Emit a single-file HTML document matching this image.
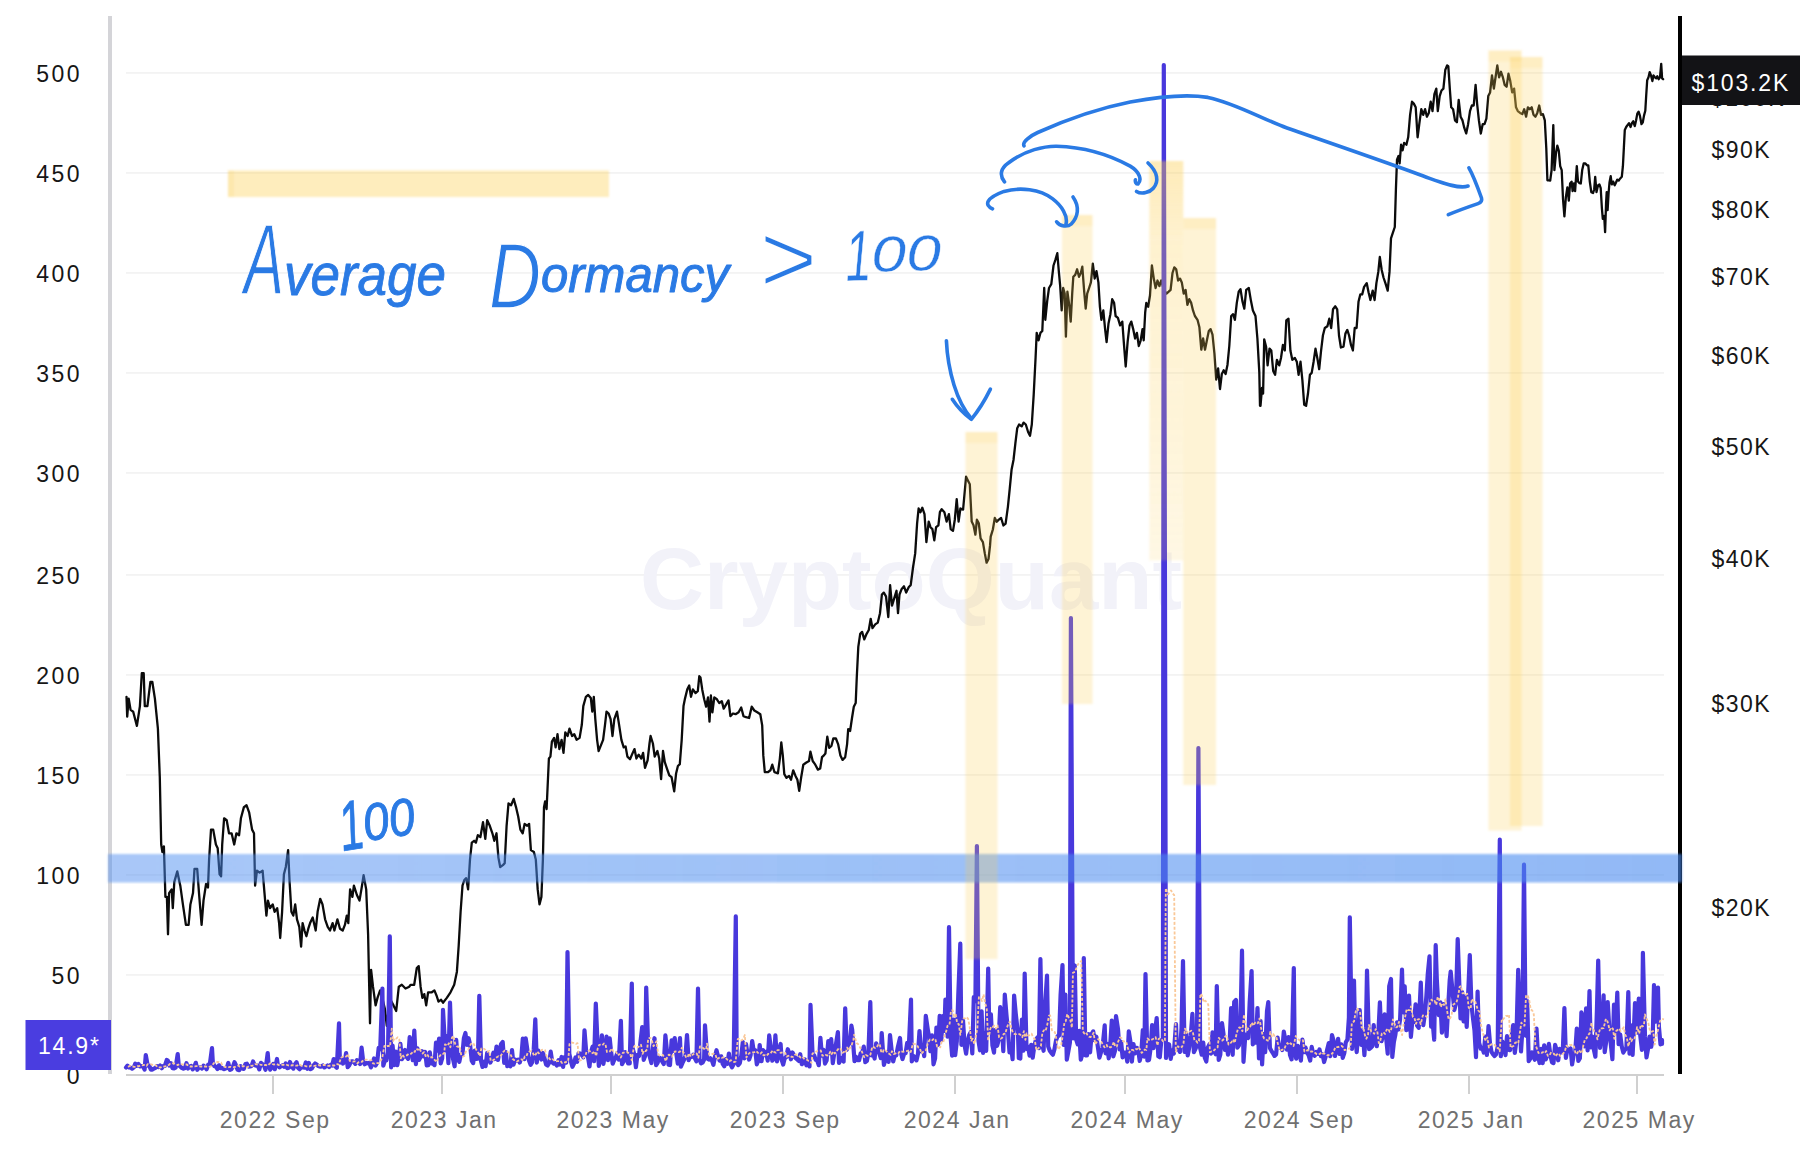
<!DOCTYPE html>
<html lang="en"><head><meta charset="utf-8"><title>Average Dormancy chart</title>
<style>html,body{margin:0;padding:0;background:#fff}body{width:1808px;height:1150px;overflow:hidden}svg{display:block}text{font-family:"Liberation Sans", "DejaVu Sans", sans-serif}.yl{font-size:23px;fill:#161616;letter-spacing:1.5px}.yll{font-size:23px;fill:#161616;letter-spacing:2.5px}.xl{font-size:23px;fill:#707070;letter-spacing:1.55px}.hw{fill:#2a7ae4;font-style:italic}</style></head><body>
<svg width="1808" height="1150" viewBox="0 0 1808 1150">
<rect width="1808" height="1150" fill="#fff"/>
<rect x="126" y="72.25" width="1538" height="1.4" fill="#f0f0f0"/>
<rect x="126" y="172.25" width="1538" height="1.4" fill="#f0f0f0"/>
<rect x="126" y="272.25" width="1538" height="1.4" fill="#f0f0f0"/>
<rect x="126" y="372.25" width="1538" height="1.4" fill="#f0f0f0"/>
<rect x="126" y="472.25" width="1538" height="1.4" fill="#f0f0f0"/>
<rect x="126" y="574.25" width="1538" height="1.4" fill="#f0f0f0"/>
<rect x="126" y="674.25" width="1538" height="1.4" fill="#f0f0f0"/>
<rect x="126" y="774.25" width="1538" height="1.4" fill="#f0f0f0"/>
<rect x="126" y="874.25" width="1538" height="1.4" fill="#f0f0f0"/>
<rect x="126" y="974.25" width="1538" height="1.4" fill="#f0f0f0"/>
<text x="640" y="609" font-size="88" font-weight="bold" fill="#f2f2f9" textLength="542" lengthAdjust="spacingAndGlyphs">CryptoQuant</text>
<rect x="108" y="16" width="4" height="1058" fill="#d4d4d8"/>
<rect x="1678" y="16" width="4" height="1058" fill="#000"/>
<rect x="126" y="1074" width="1538" height="2" fill="#d0d0d0"/>
<rect x="272" y="1075" width="2" height="19" fill="#d0d0d0"/>
<rect x="441" y="1075" width="2" height="19" fill="#d0d0d0"/>
<rect x="610" y="1075" width="2" height="19" fill="#d0d0d0"/>
<rect x="782" y="1075" width="2" height="19" fill="#d0d0d0"/>
<rect x="954" y="1075" width="2" height="19" fill="#d0d0d0"/>
<rect x="1124" y="1075" width="2" height="19" fill="#d0d0d0"/>
<rect x="1296" y="1075" width="2" height="19" fill="#d0d0d0"/>
<rect x="1468" y="1075" width="2" height="19" fill="#d0d0d0"/>
<rect x="1636" y="1075" width="2" height="19" fill="#d0d0d0"/>
<text class="yll" x="82" y="82" text-anchor="end">500</text>
<text class="yll" x="82" y="182" text-anchor="end">450</text>
<text class="yll" x="82" y="282" text-anchor="end">400</text>
<text class="yll" x="82" y="382" text-anchor="end">350</text>
<text class="yll" x="82" y="482" text-anchor="end">300</text>
<text class="yll" x="82" y="584" text-anchor="end">250</text>
<text class="yll" x="82" y="684" text-anchor="end">200</text>
<text class="yll" x="82" y="784" text-anchor="end">150</text>
<text class="yll" x="82" y="884" text-anchor="end">100</text>
<text class="yll" x="82" y="984" text-anchor="end">50</text>
<text class="yll" x="82" y="1084" text-anchor="end">0</text>
<text class="yl" x="1711.5" y="157.8">$90K</text>
<text class="yl" x="1711.5" y="217.8">$80K</text>
<text class="yl" x="1711.5" y="284.8">$70K</text>
<text class="yl" x="1711.5" y="363.8">$60K</text>
<text class="yl" x="1711.5" y="454.8">$50K</text>
<text class="yl" x="1711.5" y="566.8">$40K</text>
<text class="yl" x="1711.5" y="711.8">$30K</text>
<text class="yl" x="1711.5" y="915.8">$20K</text>
<text class="yl" x="1711" y="106.2">$100K</text>
<text class="xl" x="275.2" y="1128" text-anchor="middle">2022 Sep</text>
<text class="xl" x="444.2" y="1128" text-anchor="middle">2023 Jan</text>
<text class="xl" x="613.2" y="1128" text-anchor="middle">2023 May</text>
<text class="xl" x="785.2" y="1128" text-anchor="middle">2023 Sep</text>
<text class="xl" x="957.2" y="1128" text-anchor="middle">2024 Jan</text>
<text class="xl" x="1127.2" y="1128" text-anchor="middle">2024 May</text>
<text class="xl" x="1299.2" y="1128" text-anchor="middle">2024 Sep</text>
<text class="xl" x="1471.2" y="1128" text-anchor="middle">2025 Jan</text>
<text class="xl" x="1639.2" y="1128" text-anchor="middle">2025 May</text>
<polyline fill="none" stroke="#0b0b0b" stroke-width="2.3" stroke-linejoin="round" stroke-linecap="round" points="126.5,696.8 127.2,716.6 128.7,698.6 130.6,709.9 133.2,711.7 136.9,725.9 139.9,706.1 141.8,673.2 143.7,673.2 144.8,706.1 147.4,706.1 150.4,681.8 152.3,681.8 154.9,698.6 157.9,728.6 159.8,777.2 161.2,844.5 162.4,852.0 163.9,846.4 165.4,896.9 166.9,896.9 168.0,934.3 169.1,893.1 171.7,889.4 172.8,908.1 174.3,881.9 177.3,871.4 180.3,885.7 182.9,904.4 185.9,924.9 188.6,924.9 190.4,904.4 193.0,893.1 194.5,868.8 197.2,868.8 199.0,893.1 201.6,924.9 203.5,900.6 206.1,883.8 208.0,887.5 209.1,859.5 211.0,829.6 213.2,829.6 215.9,844.5 217.7,848.3 219.6,874.4 221.1,876.3 222.2,844.5 224.1,818.3 226.7,820.2 229.0,833.3 231.6,833.3 234.2,844.5 236.4,833.3 239.1,835.2 240.9,818.3 243.9,807.1 246.5,805.2 249.2,812.7 252.1,829.6 254.0,833.3 255.1,885.7 257.0,870.7 259.6,872.6 262.6,870.7 264.5,893.1 266.4,915.6 267.9,900.6 270.1,908.1 272.7,904.4 274.6,911.8 277.2,908.1 279.1,923.1 280.2,938.0 282.1,911.8 283.9,874.4 285.8,867.0 288.1,850.1 289.6,881.9 291.4,911.8 293.3,915.6 295.2,904.4 297.0,919.3 299.3,926.8 301.1,946.6 302.6,923.1 304.5,930.5 306.4,936.2 308.3,928.7 310.1,923.1 312.7,917.5 315.7,930.5 317.6,911.8 320.2,898.8 322.5,904.4 325.1,919.3 327.7,926.8 330.0,930.5 332.6,923.1 334.4,930.5 337.4,919.3 340.0,928.7 342.7,930.5 344.9,924.9 346.8,915.6 348.3,923.1 350.1,889.4 352.4,896.9 353.9,885.7 356.9,895.0 359.5,900.6 361.4,889.4 363.6,875.2 366.2,889.4 368.1,934.3 369.2,986.7 370.0,1023.3 371.1,969.8 373.0,986.7 375.6,1005.4 377.5,997.9 380.1,990.4 382.3,997.9 384.9,1009.1 386.8,1025.9 388.7,1009.1 390.5,999.8 393.5,1005.4 396.2,1011.0 398.8,986.7 401.8,984.8 405.5,988.5 409.3,986.7 410.5,984.8 414.2,984.8 416.8,968.0 418.7,966.1 420.6,986.7 422.4,997.9 424.3,994.1 426.2,1005.4 428.1,992.3 431.8,992.3 434.4,990.4 436.7,996.0 438.5,1001.6 441.1,999.8 443.0,1002.7 446.8,997.9 450.5,992.3 454.2,984.8 456.9,971.7 458.7,945.5 460.6,911.8 462.5,885.7 464.3,880.0 466.2,878.2 468.1,889.4 470.0,859.5 471.8,842.6 474.1,840.8 475.9,842.6 477.8,835.2 480.4,837.0 483.0,822.1 485.3,838.9 487.2,820.2 489.8,825.8 492.4,833.3 494.3,840.8 496.5,833.3 498.4,857.6 500.2,867.0 502.9,865.1 504.7,863.2 506.6,825.8 508.5,803.4 511.1,805.2 513.7,798.9 516.0,807.1 518.2,816.5 520.4,829.6 522.7,833.3 524.6,823.9 527.2,825.8 529.1,823.9 530.9,850.1 533.9,852.0 535.8,859.5 537.7,889.4 539.5,904.4 541.4,896.9 542.9,859.5 544.0,807.1 545.1,801.5 546.6,809.0 548.9,758.5 550.4,756.6 551.9,741.6 554.1,737.9 555.6,747.3 557.5,734.2 559.4,749.1 561.6,739.8 563.5,752.9 565.3,732.3 567.6,736.0 569.5,728.6 572.1,736.0 574.3,734.2 576.6,739.8 579.6,737.9 581.8,724.8 583.3,706.1 585.9,696.8 588.2,694.9 590.8,697.9 592.3,711.7 593.8,696.8 595.3,719.2 597.1,739.8 598.6,751.0 600.9,745.4 603.1,739.8 605.0,724.8 606.5,711.7 608.7,713.6 610.6,719.2 612.5,736.0 614.3,719.2 617.0,711.7 618.8,722.9 621.4,739.8 623.7,747.3 625.6,746.5 627.4,756.6 630.0,759.2 632.7,752.9 634.5,749.1 636.4,758.5 638.7,754.7 641.3,758.5 643.1,752.9 645.0,767.8 647.6,760.3 649.5,743.5 650.6,736.0 652.9,743.5 654.7,756.6 657.4,751.0 659.2,758.5 661.1,779.1 663.0,751.0 664.8,762.2 666.7,767.8 669.3,775.3 671.6,777.2 674.2,791.4 676.1,773.4 677.9,766.0 679.8,764.1 681.7,739.8 683.5,706.1 685.0,698.6 687.3,689.3 689.2,685.5 691.0,696.8 692.9,689.3 695.5,693.0 697.8,691.1 699.3,676.2 700.5,677.6 702.3,689.9 704.2,699.3 706.1,706.7 708.0,697.4 709.5,721.7 710.9,695.5 712.4,712.3 714.3,697.4 716.9,699.3 719.2,703.0 721.8,701.1 723.7,708.6 725.9,704.9 728.5,700.4 730.4,716.1 733.0,713.5 735.6,714.2 738.6,712.3 741.2,707.5 743.5,716.1 746.1,717.2 749.1,718.0 751.7,706.7 754.3,710.5 757.3,712.3 760.3,714.2 762.2,725.4 763.3,755.4 764.8,772.2 767.8,772.2 770.4,770.3 772.3,764.7 774.5,772.2 777.9,773.3 779.8,759.1 781.3,742.3 782.8,755.4 784.3,774.1 786.5,777.8 789.1,775.9 791.0,779.7 793.2,770.3 795.5,775.9 797.4,779.7 799.2,790.9 801.1,777.8 803.3,764.7 806.0,762.8 809.0,761.0 810.4,751.6 812.7,761.0 815.3,764.7 817.9,769.6 820.2,768.5 822.0,757.2 823.9,755.4 825.4,753.5 827.3,736.7 829.2,747.9 831.4,746.0 833.3,738.5 835.9,738.5 838.1,744.1 840.4,755.4 842.6,759.9 845.2,757.2 847.1,744.1 848.2,729.2 850.1,731.0 852.0,718.0 853.8,706.7 855.7,703.0 856.8,676.8 858.3,646.9 860.2,633.8 862.1,631.9 864.3,639.4 866.6,633.8 868.8,630.0 870.7,618.8 872.5,628.2 875.2,624.4 877.8,622.6 880.0,613.2 881.9,594.5 883.8,592.6 886.0,596.4 888.3,617.0 890.1,585.2 892.0,605.7 894.2,598.3 896.5,590.8 898.0,613.2 899.5,594.5 901.7,588.9 904.0,586.3 906.2,592.6 908.8,587.0 910.7,585.2 912.9,568.3 915.2,553.4 917.1,523.4 918.6,508.5 920.4,512.2 922.3,507.7 924.5,514.1 926.4,542.1 928.7,521.6 930.5,527.2 932.4,529.1 934.3,540.3 936.1,527.2 938.4,525.3 939.9,512.2 941.7,509.2 944.4,512.2 946.6,521.6 948.9,514.1 950.7,529.1 953.0,530.9 954.8,519.7 956.7,499.1 958.6,521.6 960.4,508.5 963.1,509.6 964.9,489.8 966.1,476.7 967.9,480.4 969.8,484.2 971.7,521.6 973.5,525.3 975.4,534.7 976.9,519.7 978.8,523.4 980.6,538.4 982.9,542.1 984.8,553.4 986.6,562.7 988.5,559.0 990.0,545.9 990.7,536.7 992.9,529.3 994.8,518.0 996.7,521.8 998.5,519.9 1001.1,518.0 1003.4,525.5 1005.6,523.6 1007.9,506.8 1009.8,488.1 1011.6,469.4 1013.5,460.0 1015.4,443.2 1017.2,428.3 1019.1,424.5 1021.7,426.4 1023.6,422.6 1025.8,424.5 1028.1,432.0 1030.0,435.7 1031.8,424.5 1033.7,394.6 1035.6,357.2 1036.7,332.9 1038.6,340.3 1040.4,332.9 1042.3,331.0 1044.2,288.0 1045.3,319.8 1047.2,301.1 1049.0,288.0 1051.3,284.2 1053.5,265.5 1055.4,259.9 1057.3,253.2 1058.8,271.1 1060.2,286.1 1061.7,310.4 1063.2,288.0 1064.7,293.6 1065.9,336.6 1067.4,291.7 1069.2,304.8 1070.7,321.6 1072.2,293.6 1073.3,276.8 1075.2,274.9 1077.1,269.3 1079.0,276.8 1080.8,273.0 1082.3,266.7 1084.2,291.7 1085.7,308.6 1087.2,293.6 1089.1,288.0 1090.9,282.4 1092.8,263.7 1094.7,278.6 1096.5,271.1 1098.4,282.4 1099.9,306.7 1101.4,319.8 1103.3,310.4 1105.1,329.1 1106.6,342.2 1108.5,323.5 1110.4,314.2 1112.2,299.2 1114.1,302.9 1115.6,316.0 1117.9,317.9 1120.1,325.4 1122.3,321.6 1123.8,342.2 1125.7,366.5 1127.6,342.2 1129.5,325.4 1131.3,321.6 1133.2,329.1 1135.1,338.5 1136.9,332.9 1138.8,346.0 1140.7,340.3 1142.5,329.1 1143.7,340.3 1145.2,312.3 1146.3,302.9 1148.2,306.7 1150.0,295.5 1151.9,265.5 1153.8,278.6 1155.6,288.0 1157.5,280.5 1159.4,286.1 1161.2,280.5 1163.9,289.9 1166.5,293.6 1168.7,291.7 1170.6,289.9 1172.5,273.0 1174.3,267.4 1176.2,269.3 1178.1,280.5 1180.0,278.6 1181.8,282.4 1183.7,293.6 1185.6,289.9 1187.4,304.8 1189.3,299.2 1191.2,302.9 1193.0,310.4 1194.9,316.0 1197.5,319.8 1199.4,327.3 1201.3,349.7 1203.1,338.5 1205.0,349.7 1206.9,340.3 1208.8,331.0 1210.6,329.1 1212.5,334.7 1214.4,353.4 1216.2,379.6 1218.1,368.4 1220.0,389.0 1221.8,374.0 1223.7,370.3 1225.6,374.0 1227.5,364.7 1229.3,346.0 1231.2,316.0 1233.1,314.2 1234.9,319.8 1236.8,302.9 1238.7,291.7 1240.5,289.1 1242.4,301.1 1244.3,308.6 1246.2,289.9 1248.8,288.0 1251.0,301.1 1252.9,310.4 1255.5,316.0 1257.4,338.5 1259.3,372.1 1260.0,405.8 1260.5,405.8 1262.0,387.9 1263.1,393.5 1264.2,339.3 1266.1,346.7 1267.6,365.4 1269.5,348.6 1271.3,350.5 1273.2,371.0 1275.1,374.8 1276.9,359.8 1279.2,365.4 1281.0,358.0 1282.9,344.9 1284.8,350.5 1286.3,320.5 1288.5,318.7 1290.4,350.5 1292.3,359.8 1294.9,358.0 1296.8,361.7 1298.6,374.8 1300.5,361.7 1302.4,380.4 1304.2,404.7 1306.1,405.8 1308.0,393.5 1309.9,374.8 1311.7,372.9 1313.6,361.7 1315.5,348.6 1317.3,358.0 1319.2,369.2 1321.1,350.5 1322.9,335.5 1324.8,328.0 1327.4,326.2 1329.3,318.7 1331.2,328.0 1333.0,309.3 1335.3,306.3 1337.2,309.3 1339.0,335.5 1340.9,347.5 1343.5,346.7 1345.4,333.6 1347.3,329.9 1349.1,335.5 1351.0,344.9 1352.9,350.5 1354.7,328.0 1356.6,328.0 1358.5,301.8 1360.3,294.4 1362.2,294.4 1364.1,286.9 1366.7,283.1 1368.6,292.5 1370.4,300.0 1372.7,290.6 1374.6,300.0 1376.4,283.1 1378.3,271.9 1379.8,257.0 1381.7,270.0 1383.5,277.5 1385.4,283.1 1387.7,290.6 1389.5,271.9 1391.0,238.3 1392.9,232.6 1394.8,227.0 1395.9,189.6 1397.0,159.7 1398.5,156.0 1399.6,163.4 1401.1,144.7 1402.6,150.3 1404.1,142.9 1406.4,144.7 1408.2,137.3 1410.1,114.8 1412.0,101.7 1413.8,103.6 1415.7,107.3 1417.6,137.3 1419.5,122.3 1421.3,109.2 1423.2,114.8 1425.1,109.2 1426.9,116.7 1428.8,112.9 1430.7,101.7 1432.5,111.1 1434.4,94.2 1436.3,88.6 1437.8,111.1 1439.7,96.1 1441.5,90.5 1443.4,88.6 1445.3,69.9 1447.1,65.4 1448.3,66.2 1449.8,88.6 1451.2,107.3 1453.1,109.2 1455.0,120.4 1456.9,122.3 1458.7,99.9 1460.6,116.7 1462.5,120.4 1464.3,127.9 1466.2,133.5 1468.1,124.2 1470.0,111.1 1471.8,105.5 1473.7,105.5 1475.6,84.9 1477.1,103.6 1478.9,120.4 1480.8,133.5 1482.7,124.2 1484.5,124.2 1486.4,118.6 1488.3,96.1 1490.1,92.4 1492.0,75.5 1493.9,88.6 1495.8,75.5 1497.3,65.4 1499.1,77.4 1501.0,71.8 1502.9,77.4 1504.7,84.9 1506.6,86.8 1508.5,73.7 1510.3,81.1 1512.2,92.4 1514.1,88.6 1516.0,107.3 1517.8,111.1 1520.1,112.9 1522.3,114.1 1524.2,109.2 1526.1,116.7 1527.9,107.3 1529.8,109.2 1531.7,107.3 1533.5,114.8 1535.4,116.7 1537.3,112.9 1539.2,105.5 1541.0,114.8 1542.9,114.1 1544.8,120.4 1546.3,148.5 1547.4,180.3 1549.3,180.3 1550.2,180.6 1551.6,170.1 1552.5,147.1 1553.3,125.1 1554.4,170.1 1556.0,152.9 1557.3,145.6 1558.8,150.9 1560.2,166.2 1561.7,170.1 1563.0,198.8 1564.4,216.4 1565.9,196.9 1567.4,187.3 1568.8,200.7 1570.1,183.5 1571.6,181.6 1572.6,191.1 1573.9,183.5 1575.1,191.1 1576.8,166.2 1578.0,181.6 1579.3,183.1 1580.8,183.5 1582.2,170.1 1583.7,163.4 1585.4,163.4 1587.0,165.3 1588.3,165.3 1589.8,181.6 1591.3,192.1 1593.1,193.0 1594.2,189.2 1595.2,176.8 1596.5,192.1 1598.0,185.4 1599.4,184.4 1600.7,188.2 1601.9,208.3 1602.8,218.9 1604.2,216.0 1605.1,232.2 1606.1,202.6 1606.7,192.1 1607.6,210.2 1608.6,193.0 1609.5,182.5 1610.7,176.2 1611.8,184.4 1613.2,181.6 1614.7,185.4 1616.0,182.5 1617.2,179.6 1618.7,180.6 1620.0,178.7 1621.8,176.8 1622.9,166.2 1623.9,147.1 1624.8,129.9 1626.2,127.0 1627.5,125.1 1629.0,123.2 1630.6,127.0 1631.9,123.2 1633.2,121.3 1634.8,126.1 1636.1,120.3 1637.3,113.6 1638.6,111.7 1639.9,115.6 1641.5,124.2 1642.8,122.3 1644.0,115.6 1645.3,110.8 1646.2,95.5 1647.2,80.2 1648.5,77.3 1649.7,72.1 1651.0,75.4 1652.4,81.1 1653.5,75.4 1654.9,77.3 1656.2,78.3 1657.3,76.3 1658.7,79.2 1660.0,77.3 1661.2,63.9 1662.1,78.3 1663.1,79.2"/>
<polyline fill="none" stroke="#4838dc" stroke-width="4.2" stroke-linejoin="round" stroke-linecap="round" points="126.0,1067.5 127.5,1065.7 129.1,1067.5 130.7,1067.6 132.2,1068.7 133.8,1067.4 135.3,1063.6 136.9,1065.9 138.4,1063.9 140.0,1066.4 141.5,1066.0 143.1,1066.5 144.6,1069.5 145.8,1055.0 147.7,1065.7 149.3,1065.7 150.8,1069.6 152.4,1069.6 153.9,1068.6 155.5,1067.9 157.0,1066.2 158.6,1067.1 160.1,1065.6 161.7,1068.2 163.2,1066.2 164.8,1066.0 166.8,1060.0 167.9,1060.8 169.4,1065.5 171.0,1063.3 172.5,1068.2 174.1,1068.4 175.6,1067.7 177.7,1054.0 178.7,1065.3 180.3,1066.4 181.8,1067.9 183.4,1068.7 184.9,1068.0 186.5,1063.2 188.0,1068.5 189.6,1066.4 191.1,1065.9 192.7,1069.4 194.2,1066.9 195.8,1062.8 197.3,1069.8 198.9,1067.6 200.4,1067.2 202.0,1068.5 203.5,1065.7 205.1,1067.1 206.6,1069.3 208.2,1064.7 209.7,1065.2 212.0,1048.0 212.8,1062.2 214.4,1066.1 215.9,1066.7 217.5,1069.1 219.0,1065.3 220.6,1068.2 222.1,1067.9 223.7,1069.1 225.2,1068.7 226.8,1068.0 228.3,1062.9 229.9,1069.9 231.4,1069.3 233.0,1066.4 234.5,1062.2 236.1,1065.5 237.6,1069.8 239.2,1070.2 240.7,1066.1 242.3,1068.4 243.8,1068.9 245.4,1064.1 246.9,1063.7 248.5,1066.6 250.0,1066.4 251.6,1065.9 253.1,1061.5 254.7,1065.3 256.2,1065.6 257.8,1065.6 259.3,1069.4 260.9,1062.9 262.4,1064.2 264.0,1065.6 265.5,1069.8 267.7,1053.0 268.6,1064.6 270.2,1069.7 271.7,1067.4 273.3,1064.0 274.8,1069.2 277.0,1059.0 277.9,1065.5 279.5,1067.3 281.0,1066.2 282.6,1065.2 284.1,1066.7 285.7,1063.5 287.2,1068.2 288.8,1067.8 290.0,1062.0 291.9,1066.9 293.4,1068.6 295.0,1064.2 296.5,1062.1 298.1,1067.9 299.6,1069.2 301.2,1067.3 302.7,1067.3 304.3,1067.6 305.8,1062.4 307.4,1068.8 308.9,1063.0 310.5,1069.1 312.0,1068.4 313.6,1065.3 315.1,1063.5 316.7,1064.5 318.2,1066.1 319.8,1066.6 321.3,1066.6 322.9,1065.5 324.4,1067.4 326.0,1066.3 327.5,1065.5 329.1,1067.0 330.6,1064.9 332.2,1065.5 333.7,1059.1 335.3,1066.2 336.8,1067.8 339.0,1023.4 339.9,1062.7 341.5,1058.9 343.0,1063.6 344.6,1061.3 346.1,1053.1 347.7,1067.2 349.2,1065.4 350.8,1061.8 352.3,1061.3 353.9,1061.9 355.4,1063.9 357.0,1060.2 358.5,1061.7 360.1,1064.1 361.6,1047.7 363.2,1061.4 364.7,1064.2 366.3,1063.0 367.8,1063.3 369.4,1062.9 370.9,1067.4 372.5,1064.0 374.0,1058.5 375.6,1065.5 377.1,1062.9 378.7,1047.8 380.2,1049.2 382.4,988.5 383.3,1065.7 384.9,1060.5 386.4,1060.4 388.0,1052.2 389.8,936.4 391.1,1067.3 392.6,1045.7 394.2,1065.1 395.7,1051.5 397.3,1065.2 398.8,1056.7 400.4,1043.9 401.9,1059.2 403.5,1056.6 405.0,1050.0 406.6,1057.0 408.1,1058.8 409.7,1037.2 411.2,1046.4 412.8,1060.2 414.3,1030.6 415.9,1064.1 417.4,1048.4 419.0,1060.0 420.5,1057.1 422.1,1051.2 423.6,1056.3 425.2,1052.0 426.7,1065.3 428.3,1065.2 429.8,1052.3 431.4,1063.5 432.9,1063.7 434.5,1065.1 436.0,1042.7 437.6,1050.7 439.1,1038.6 440.7,1063.4 442.2,1058.1 443.0,1009.8 445.3,1050.4 446.9,1036.0 448.4,1063.2 450.0,1002.5 451.5,1047.3 453.1,1059.4 454.6,1066.3 456.2,1039.9 457.7,1058.8 459.3,1061.9 460.8,1054.6 462.4,1054.5 463.9,1038.0 465.4,1033.0 467.0,1044.9 468.6,1038.2 470.1,1044.6 471.7,1060.6 473.2,1063.1 474.8,1050.6 476.3,1058.8 477.9,1058.7 479.3,995.9 481.0,1061.0 482.5,1066.9 484.1,1061.6 485.6,1066.2 487.2,1052.8 488.7,1057.3 490.3,1062.6 491.8,1059.6 493.4,1052.7 494.9,1059.0 496.5,1046.5 498.0,1059.9 499.6,1050.3 501.1,1044.0 502.7,1041.9 504.2,1062.9 505.8,1052.2 507.3,1066.2 508.9,1064.3 510.4,1066.3 512.0,1050.0 513.5,1064.7 515.1,1059.6 516.6,1060.6 518.2,1059.7 519.7,1062.5 521.3,1057.9 522.8,1038.6 524.4,1059.2 525.7,1038.3 527.5,1050.8 529.0,1060.6 530.6,1064.8 532.1,1062.4 533.7,1049.9 535.3,1019.4 536.8,1062.6 538.3,1050.7 539.9,1053.1 541.4,1059.5 543.0,1053.0 544.5,1058.4 546.1,1064.6 547.6,1065.6 549.2,1062.7 550.7,1051.7 552.3,1062.4 553.8,1063.7 555.4,1063.2 556.9,1065.5 558.5,1060.2 560.0,1064.6 561.6,1057.0 563.1,1067.0 564.7,1057.2 566.2,1062.7 567.5,952.1 569.3,1053.8 570.9,1061.1 572.4,1066.8 574.0,1063.6 575.5,1057.5 577.1,1061.9 578.6,1053.2 580.2,1053.6 581.7,1054.4 583.3,1057.3 584.5,1030.3 586.4,1054.4 587.9,1056.3 589.5,1066.5 591.0,1052.0 592.6,1046.7 594.1,1061.2 595.8,1003.5 597.2,1035.5 598.8,1066.0 600.3,1056.1 601.9,1035.4 603.4,1063.8 605.0,1054.1 606.5,1036.6 608.0,1060.2 609.7,1038.3 611.1,1051.9 612.7,1063.7 614.2,1060.0 615.8,1057.5 617.3,1052.8 618.9,1059.7 620.9,1020.8 622.0,1064.1 623.5,1061.5 625.1,1052.0 626.6,1058.8 628.2,1063.5 629.7,1063.5 631.8,983.5 632.8,1049.1 634.4,1054.6 635.9,1067.2 637.5,1054.8 639.0,1056.0 640.6,1040.6 642.2,1027.0 643.7,1059.9 645.2,1055.7 646.2,987.5 648.3,1050.4 649.9,1057.3 651.4,1063.0 653.0,1046.5 654.5,1038.2 656.1,1065.2 657.6,1062.8 659.2,1057.5 660.7,1058.3 662.3,1061.7 663.8,1064.0 665.4,1035.4 666.9,1050.4 668.5,1064.6 670.0,1065.0 671.6,1040.3 673.1,1050.9 674.7,1038.0 676.2,1052.9 677.8,1063.6 680.0,1038.0 680.9,1066.7 682.4,1063.2 684.0,1059.9 685.5,1055.7 687.0,1035.0 688.6,1060.2 690.2,1056.2 691.7,1056.9 693.3,1054.6 694.8,1058.1 696.4,1061.3 698.0,988.5 699.5,1059.2 701.0,1063.4 702.6,1062.7 704.1,1059.5 705.0,1025.4 707.2,1058.5 708.8,1059.5 710.3,1058.3 711.9,1060.3 713.4,1064.8 715.0,1056.5 716.5,1050.2 718.1,1056.4 719.6,1060.6 721.2,1056.3 722.7,1063.9 724.3,1066.2 725.8,1059.1 727.4,1063.8 728.9,1053.6 730.5,1064.3 732.0,1067.3 733.6,1064.2 735.8,916.4 736.7,1061.6 738.2,1065.1 739.8,1063.2 741.3,1055.7 742.8,1042.0 744.4,1058.3 746.0,1044.1 747.5,1054.0 749.1,1059.6 750.6,1055.0 752.2,1041.1 753.7,1051.1 755.3,1050.5 756.8,1064.3 758.4,1060.4 759.7,1045.0 761.5,1061.2 763.0,1050.0 764.6,1055.0 766.1,1051.9 767.7,1060.7 769.2,1035.4 770.8,1047.7 772.3,1060.7 773.9,1058.9 775.4,1035.4 777.0,1061.4 778.5,1052.2 780.6,1044.0 781.6,1059.5 783.2,1064.6 784.7,1058.3 786.3,1057.0 787.8,1049.2 789.4,1053.2 790.9,1059.3 792.5,1052.5 794.0,1055.5 795.6,1058.1 797.1,1059.2 798.7,1060.9 800.2,1054.2 801.8,1064.2 803.3,1062.7 804.9,1059.5 806.4,1065.3 808.0,1061.8 809.5,1066.4 810.5,1004.9 812.6,1055.3 814.2,1055.3 815.7,1059.8 817.3,1060.8 818.8,1065.2 820.4,1037.8 821.9,1055.7 823.5,1049.7 825.0,1063.6 826.6,1060.6 828.3,1041.0 829.7,1053.2 831.2,1039.1 832.8,1063.2 834.3,1053.0 835.9,1044.5 837.9,1032.0 839.0,1063.0 840.5,1060.1 842.1,1057.7 843.6,1061.6 845.2,1008.4 846.7,1049.8 848.3,1044.4 849.8,1043.3 851.4,1025.6 852.2,1030.0 854.5,1061.2 856.0,1056.8 857.6,1060.1 859.1,1060.2 860.7,1053.3 862.2,1052.5 863.8,1046.6 865.3,1062.2 866.9,1060.9 868.4,1052.8 870.3,1002.0 871.5,1055.4 873.1,1053.1 874.6,1058.5 876.2,1043.3 877.7,1048.4 879.3,1053.4 880.8,1058.0 881.7,1033.0 883.9,1064.8 885.5,1059.7 887.0,1052.1 888.6,1061.9 890.0,1035.0 891.7,1050.9 893.2,1061.5 894.8,1054.9 896.3,1055.4 897.9,1047.0 900.0,1038.0 901.0,1052.9 902.5,1059.0 904.1,1053.9 905.6,1053.2 907.2,1042.8 908.7,1049.2 911.0,999.5 911.8,1061.4 913.4,1055.9 914.9,1058.4 916.5,1060.4 918.0,1053.7 919.5,1031.0 921.1,1051.4 922.7,1046.1 924.2,1056.2 925.8,1015.8 928.0,1031.0 928.9,1035.7 930.4,1051.2 932.0,1035.4 933.5,1064.3 935.1,1058.4 936.4,1027.7 938.2,1044.9 939.7,1015.8 941.3,1040.1 942.8,1016.2 944.4,1031.0 945.4,999.5 947.5,1036.6 949.0,927.2 950.6,1036.6 952.1,1055.6 953.7,1019.5 955.2,1055.2 956.8,1041.3 958.3,994.6 960.3,943.7 961.4,1044.8 963.0,1020.1 964.5,1044.7 966.1,1053.7 967.6,1041.2 969.2,1035.1 970.7,1032.3 972.3,1053.4 973.8,997.1 975.4,1001.1 976.9,846.0 978.5,1041.0 980.0,1050.3 981.6,1011.4 983.1,1052.8 984.7,1033.1 986.2,1050.8 988.2,968.6 989.3,1032.1 990.9,1014.4 992.4,1045.2 994.0,1052.6 995.5,1029.9 997.1,1045.8 998.6,1040.3 1000.2,1007.2 1001.7,1021.0 1003.3,1051.2 1004.8,994.6 1006.5,1015.4 1007.9,1030.5 1009.5,1052.3 1011.0,1045.7 1012.6,1059.2 1014.1,995.5 1015.7,1013.2 1018.0,1034.0 1018.8,1058.1 1020.3,1058.6 1021.9,1019.7 1023.4,1050.6 1024.7,973.6 1026.5,1049.0 1028.1,1046.7 1029.6,1055.7 1031.2,1044.8 1032.7,1057.7 1034.3,1046.1 1035.8,1040.3 1037.4,1037.4 1038.9,1048.1 1040.4,959.0 1042.0,1042.7 1043.6,1050.8 1045.1,1005.4 1047.0,975.6 1048.2,1046.6 1049.8,1050.7 1051.3,1052.8 1052.9,1054.7 1054.4,1049.5 1056.0,1040.5 1057.5,1036.4 1059.1,1035.4 1060.6,994.6 1062.5,965.0 1063.7,1044.9 1065.3,994.6 1066.8,1059.6 1068.4,1051.2 1069.9,1042.6 1070.9,618.0 1073.0,1038.5 1074.8,965.6 1076.1,1039.3 1077.7,1044.3 1079.2,1030.8 1080.8,1059.7 1082.3,1054.3 1083.8,958.0 1085.4,1055.3 1087.0,1055.4 1088.5,1034.1 1090.1,1052.4 1091.6,1034.0 1093.2,1031.4 1094.7,1040.3 1096.3,1036.6 1097.8,1046.5 1099.4,1057.6 1100.9,1052.7 1102.5,1047.8 1104.7,1025.4 1105.6,1053.3 1107.1,1043.9 1108.7,1058.3 1110.2,1045.4 1111.8,1020.5 1113.3,1056.5 1114.9,1051.1 1116.0,1016.0 1118.0,1029.1 1119.5,1049.3 1121.1,1041.7 1122.6,1057.3 1124.2,1052.6 1125.7,1052.5 1127.3,1061.7 1128.8,1031.4 1130.4,1041.6 1131.9,1061.6 1133.5,1044.0 1135.0,1053.5 1136.6,1047.8 1138.1,1048.8 1139.7,1060.9 1141.2,1054.2 1142.8,1030.2 1144.3,1056.7 1145.5,974.0 1147.4,1060.4 1149.0,1059.9 1150.5,1049.1 1152.1,1025.2 1153.6,1048.1 1155.5,1027.3 1156.7,1018.0 1158.3,1056.3 1159.8,1057.2 1161.4,1039.8 1162.9,1039.4 1163.8,65.0 1166.0,1058.0 1167.6,1043.8 1169.1,1044.5 1170.7,1058.8 1172.2,1050.3 1173.8,1053.6 1176.0,1024.0 1176.9,1049.3 1178.4,1049.0 1180.0,1051.9 1181.5,1028.2 1183.0,961.0 1184.6,1052.0 1186.2,1033.3 1187.7,1055.4 1189.3,1047.0 1190.8,1035.4 1192.4,1013.8 1193.9,1052.2 1195.5,1048.8 1197.0,1045.2 1198.4,748.0 1200.1,1047.7 1201.7,1054.7 1203.2,1042.5 1204.8,1057.8 1206.3,1061.5 1207.9,1047.4 1209.4,1044.3 1211.0,1053.7 1212.5,1032.3 1214.1,1051.1 1215.6,1054.2 1216.8,986.0 1218.7,1060.0 1220.3,1054.7 1222.0,1023.0 1223.4,1033.2 1224.9,1049.9 1226.5,1043.5 1228.0,1054.6 1229.6,1043.6 1231.1,1008.0 1232.7,1054.8 1234.2,1002.0 1236.0,1000.0 1237.3,1047.7 1238.9,1045.6 1240.4,1028.9 1242.0,950.7 1243.5,1061.8 1245.1,1038.3 1246.6,1034.4 1248.2,1038.0 1249.7,1002.0 1251.6,971.0 1252.8,1044.4 1254.4,1031.3 1255.9,1042.6 1257.5,1008.0 1259.0,1058.4 1260.6,1021.0 1262.1,1064.4 1263.7,1034.0 1265.2,1052.1 1267.0,1011.0 1268.3,1002.0 1269.9,1048.0 1271.4,1050.9 1273.0,1053.2 1274.5,1055.9 1276.1,1054.4 1277.6,1037.7 1279.2,1047.4 1280.7,1047.0 1282.3,1050.0 1283.8,1031.7 1285.4,1040.4 1286.9,1049.6 1288.5,1037.2 1290.0,1055.1 1291.6,1059.4 1293.8,968.0 1294.7,1051.2 1296.2,1058.7 1297.8,1045.8 1299.3,1052.0 1300.9,1060.6 1302.4,1039.7 1304.0,1052.1 1305.5,1047.6 1307.1,1053.0 1308.6,1055.1 1310.2,1060.6 1311.7,1046.9 1313.3,1054.1 1314.8,1055.8 1316.4,1052.0 1317.9,1053.8 1319.5,1049.5 1321.0,1056.2 1322.6,1054.4 1324.1,1062.0 1325.7,1056.5 1327.2,1049.5 1328.8,1043.1 1330.3,1056.2 1332.0,1035.0 1333.4,1040.0 1335.0,1056.0 1336.5,1049.0 1338.1,1038.8 1339.6,1054.0 1341.2,1044.3 1342.7,1057.8 1344.3,1053.0 1345.8,1042.3 1347.4,1039.6 1348.9,1017.7 1349.8,917.4 1352.0,1048.9 1354.0,980.6 1355.1,1033.0 1356.7,1052.1 1358.2,1033.0 1359.7,1010.0 1361.3,1044.9 1362.9,1032.3 1364.4,1055.1 1366.0,1027.4 1367.0,970.6 1369.1,1049.2 1370.6,1047.9 1372.2,1046.3 1373.7,1025.1 1375.3,1040.1 1376.8,1046.2 1378.4,1032.1 1379.9,1002.3 1381.5,1041.2 1383.0,1035.5 1384.6,1014.4 1386.1,1037.2 1387.7,1053.6 1389.2,986.2 1391.0,979.0 1392.3,1057.0 1393.9,1041.8 1395.4,1034.5 1397.0,1022.3 1398.5,1029.5 1400.1,1019.3 1402.0,969.6 1403.2,1012.4 1404.7,986.4 1406.3,1030.1 1407.8,1029.4 1409.0,995.5 1410.9,1036.8 1412.5,1019.1 1414.0,1021.9 1415.6,1004.3 1417.1,1025.6 1418.7,1027.8 1420.8,982.5 1421.8,1015.4 1423.3,1025.1 1424.9,1014.2 1426.4,995.9 1427.8,973.6 1429.5,956.4 1431.1,1026.6 1432.6,1021.7 1434.2,1039.7 1435.7,945.2 1436.8,979.0 1438.8,1015.1 1440.4,1002.4 1441.9,1032.6 1443.5,1004.0 1445.0,1014.9 1446.6,1036.1 1448.1,1008.2 1449.7,980.3 1450.7,971.6 1452.8,994.1 1454.3,1010.1 1455.9,1003.7 1457.7,939.0 1459.0,975.8 1460.5,1018.5 1462.1,992.0 1463.6,1021.5 1465.2,996.6 1466.7,1027.0 1468.6,983.5 1469.8,955.0 1471.4,1004.4 1472.9,1017.4 1474.5,1030.6 1476.0,1057.1 1477.6,991.5 1479.1,1042.7 1480.7,1048.6 1482.2,1047.7 1483.8,1052.6 1485.3,1036.5 1486.9,1055.0 1488.5,1026.0 1490.0,1043.4 1491.5,1051.8 1493.1,1054.3 1494.6,1056.0 1496.2,1054.1 1497.7,1046.6 1499.8,839.7 1500.8,1056.2 1502.4,1041.6 1503.9,1044.9 1505.5,1055.1 1507.0,1036.2 1508.6,1049.7 1510.1,1050.2 1511.7,1035.8 1513.2,1025.0 1514.8,1053.0 1516.3,1041.5 1518.2,969.8 1519.4,1001.0 1521.0,1051.5 1522.5,1027.9 1524.0,864.7 1525.6,1035.6 1527.2,1001.0 1528.7,1061.1 1530.3,1058.6 1531.8,1052.3 1533.4,1056.7 1534.9,1059.7 1536.5,1028.6 1538.0,1055.6 1539.6,1063.0 1541.1,1048.9 1542.7,1063.1 1544.2,1045.3 1545.8,1059.3 1547.3,1055.2 1548.9,1043.9 1550.4,1055.3 1552.0,1062.3 1553.5,1063.1 1555.1,1044.9 1556.6,1050.1 1558.2,1060.3 1559.7,1048.8 1561.3,1052.4 1562.8,1051.0 1564.4,1008.0 1565.9,1057.9 1567.5,1048.4 1569.0,1050.1 1570.6,1048.6 1572.1,1064.5 1573.7,1055.0 1575.2,1052.4 1576.8,1028.6 1578.3,1060.9 1579.9,1058.1 1581.4,1012.4 1583.0,1017.9 1584.5,1046.4 1586.1,1008.4 1587.6,1050.4 1589.5,991.0 1590.7,1047.5 1592.3,1036.7 1593.8,1049.4 1595.4,1056.7 1596.9,1010.5 1598.2,960.5 1600.0,1047.9 1601.6,1035.8 1603.6,995.4 1604.7,1052.2 1606.2,1041.5 1607.7,1002.0 1609.3,1028.4 1610.9,1045.0 1612.4,1059.2 1614.0,1004.5 1615.5,1033.1 1617.3,992.5 1618.6,1044.2 1620.2,1034.5 1621.7,1046.2 1623.3,1052.6 1624.8,1049.9 1626.4,1048.3 1628.3,992.0 1629.5,1053.7 1631.0,1025.4 1632.6,1054.9 1634.1,1024.8 1635.0,1003.0 1637.2,1032.6 1638.8,998.7 1640.3,1035.8 1641.9,1049.8 1642.9,952.8 1645.0,1036.9 1646.5,1057.5 1648.1,1048.4 1649.6,1036.6 1651.2,1046.8 1652.7,1038.2 1654.0,985.0 1655.8,1021.7 1658.0,987.5 1658.9,1026.7 1660.5,1044.3 1662.0,1040.0 1662.0,1044.0"/>
<polyline fill="none" stroke="#fac898" stroke-width="1.8" stroke-dasharray="3 1.8" stroke-linejoin="round" points="128.0,1066.9 129.6,1066.0 131.1,1066.3 132.7,1066.5 134.2,1066.8 135.8,1066.8 137.3,1066.2 138.9,1066.2 140.4,1065.6 142.0,1065.4 143.5,1065.0 145.1,1064.9 146.6,1065.8 147.8,1064.1 149.7,1064.4 151.3,1064.3 152.8,1064.8 154.4,1065.3 155.9,1065.2 157.5,1067.2 159.0,1067.3 160.6,1067.5 162.1,1066.9 163.7,1066.7 165.2,1066.3 166.8,1066.0 168.8,1065.0 169.9,1064.0 171.4,1064.0 173.0,1063.2 174.5,1063.5 176.1,1063.9 177.6,1065.1 179.7,1064.0 180.7,1064.0 182.3,1064.5 183.8,1064.4 185.4,1064.5 186.9,1064.5 188.5,1066.0 190.0,1066.5 191.6,1066.5 193.1,1066.2 194.7,1066.3 196.2,1066.1 197.8,1066.1 199.3,1066.3 200.9,1066.5 202.4,1066.7 204.0,1066.5 205.5,1066.4 207.1,1067.0 208.6,1067.0 210.2,1066.5 211.7,1066.2 214.0,1062.9 214.8,1062.4 216.4,1062.2 217.9,1061.8 219.5,1062.5 221.0,1062.5 222.6,1065.7 224.1,1066.6 225.7,1067.1 227.2,1067.4 228.8,1067.2 230.3,1066.8 231.9,1067.1 233.4,1067.3 235.0,1066.9 236.5,1065.9 238.1,1065.5 239.6,1066.6 241.2,1066.6 242.7,1066.1 244.3,1066.4 245.8,1067.5 247.4,1067.3 248.9,1066.3 250.5,1065.7 252.0,1065.8 253.6,1065.4 255.1,1064.2 256.7,1064.4 258.2,1064.7 259.8,1064.5 261.3,1065.0 262.9,1064.6 264.4,1065.0 266.0,1065.0 267.5,1065.7 269.7,1063.7 270.6,1062.9 272.2,1064.0 273.7,1064.5 275.3,1064.3 276.8,1064.1 279.0,1065.1 279.9,1065.2 281.5,1064.9 283.0,1064.7 284.6,1064.9 286.1,1064.5 287.7,1065.2 289.2,1065.6 290.8,1065.7 292.0,1065.1 293.9,1065.3 295.4,1065.6 297.0,1065.7 298.5,1064.8 300.1,1064.8 301.6,1065.9 303.2,1066.0 304.7,1065.8 306.3,1066.3 307.8,1066.3 309.4,1066.5 310.9,1065.5 312.5,1065.8 314.0,1066.0 315.6,1065.6 317.1,1065.8 318.7,1065.1 320.2,1065.6 321.8,1065.2 323.3,1064.9 324.9,1065.0 326.4,1065.6 328.0,1065.8 329.5,1065.7 331.1,1065.8 332.6,1065.5 334.2,1065.5 335.7,1064.2 337.3,1064.2 338.8,1064.6 341.0,1057.7 341.9,1057.3 343.5,1056.3 345.0,1057.0 346.6,1056.2 348.1,1053.9 349.7,1060.9 351.2,1061.3 352.8,1061.7 354.3,1061.4 355.9,1061.5 357.4,1063.2 359.0,1062.0 360.5,1061.5 362.1,1061.8 363.6,1059.7 365.2,1059.6 366.7,1059.6 368.3,1060.1 369.8,1060.3 371.4,1060.1 372.9,1063.3 374.5,1063.7 376.0,1062.8 377.6,1063.2 379.1,1063.1 380.7,1060.7 382.2,1057.8 384.4,1045.9 385.3,1047.0 386.9,1046.2 388.4,1045.9 390.0,1046.5 391.8,1028.7 393.1,1041.2 394.6,1038.0 396.2,1038.7 397.7,1037.3 399.3,1039.4 400.8,1058.4 402.4,1054.7 403.9,1056.8 405.5,1055.5 407.0,1055.3 408.6,1054.0 410.1,1054.3 411.7,1053.2 413.2,1051.2 414.8,1051.8 416.3,1048.7 417.9,1049.8 419.4,1048.2 421.0,1051.8 422.5,1053.5 424.1,1052.1 425.6,1056.1 427.2,1054.2 428.7,1056.9 430.3,1057.7 431.8,1057.0 433.4,1058.9 434.9,1060.1 436.5,1062.1 438.0,1058.6 439.6,1056.3 441.1,1054.1 442.7,1054.1 444.2,1053.2 445.0,1044.4 447.3,1045.7 448.9,1043.3 450.4,1047.2 452.0,1037.6 453.5,1035.9 455.1,1043.7 456.6,1046.2 458.2,1046.9 459.7,1046.2 461.3,1055.6 462.8,1056.7 464.4,1056.0 465.9,1051.5 467.4,1050.4 469.0,1048.2 470.6,1044.5 472.1,1042.9 473.7,1043.8 475.2,1047.8 476.8,1050.6 478.3,1052.8 479.9,1056.0 481.3,1048.3 483.0,1048.4 484.5,1049.0 486.1,1050.7 487.6,1051.9 489.2,1050.9 490.7,1060.7 492.3,1060.9 493.8,1059.8 495.4,1058.3 496.9,1057.2 498.5,1056.2 500.0,1056.6 501.6,1054.7 503.1,1052.2 504.7,1050.5 506.2,1051.1 507.8,1052.0 509.3,1053.0 510.9,1055.2 512.4,1058.8 514.0,1060.0 515.5,1060.3 517.1,1061.5 518.6,1060.6 520.2,1059.9 521.7,1059.3 523.3,1060.6 524.8,1056.4 526.4,1056.4 527.7,1052.8 529.5,1051.4 531.0,1051.1 532.6,1052.2 534.1,1056.0 535.7,1054.5 537.3,1051.5 538.8,1053.4 540.3,1051.8 541.9,1049.9 543.4,1049.5 545.0,1050.0 546.5,1056.1 548.1,1056.5 549.6,1058.8 551.2,1060.3 552.7,1059.1 554.3,1060.6 555.8,1061.4 557.4,1061.2 558.9,1061.2 560.5,1060.8 562.0,1062.9 563.6,1062.0 565.1,1062.5 566.7,1061.6 568.2,1061.1 569.5,1044.0 571.3,1042.3 572.9,1042.9 574.4,1042.9 576.0,1043.9 577.5,1043.1 579.1,1060.5 580.6,1060.4 582.2,1059.2 583.7,1057.3 585.3,1056.2 586.5,1051.9 588.4,1050.7 589.9,1051.2 591.5,1053.3 593.0,1052.9 594.6,1051.2 596.1,1056.1 597.8,1048.1 599.2,1044.8 600.8,1044.7 602.3,1045.3 603.9,1043.5 605.4,1044.0 607.0,1052.0 608.5,1052.2 610.0,1051.2 611.7,1048.4 613.1,1051.0 614.7,1051.0 616.2,1052.0 617.8,1055.3 619.3,1054.1 620.9,1057.5 622.9,1052.6 624.0,1052.6 625.5,1052.8 627.1,1052.0 628.6,1052.9 630.2,1053.5 631.7,1060.3 633.8,1047.5 634.8,1045.6 636.4,1046.0 637.9,1047.3 639.5,1045.9 641.0,1044.7 642.6,1053.8 644.2,1050.3 645.7,1051.1 647.2,1049.3 648.2,1038.6 650.3,1037.8 651.9,1040.4 653.4,1046.1 655.0,1044.0 656.5,1041.2 658.1,1053.5 659.6,1055.5 661.2,1055.5 662.7,1054.8 664.3,1057.2 665.8,1061.2 667.4,1056.5 668.9,1054.6 670.5,1055.7 672.0,1056.7 673.6,1053.4 675.1,1051.3 676.7,1051.7 678.2,1052.1 679.8,1051.9 682.0,1047.7 682.9,1051.8 684.4,1053.8 686.0,1057.2 687.5,1057.7 689.0,1053.2 690.6,1056.7 692.2,1055.0 693.7,1054.0 695.3,1053.2 696.8,1053.6 698.4,1057.7 700.0,1046.4 701.5,1046.9 703.0,1047.9 704.6,1049.2 706.1,1049.4 707.0,1043.7 709.2,1054.8 710.8,1054.8 712.3,1054.0 713.9,1053.7 715.4,1054.5 717.0,1059.4 718.5,1058.1 720.1,1057.6 721.6,1058.0 723.2,1057.3 724.7,1057.2 726.3,1058.7 727.8,1060.2 729.4,1061.3 730.9,1060.2 732.5,1061.5 734.0,1062.0 735.6,1061.7 737.8,1039.1 738.7,1038.7 740.2,1040.6 741.8,1040.4 743.3,1038.6 744.8,1035.0 746.4,1057.5 748.0,1054.7 749.5,1053.0 751.1,1052.4 752.6,1052.3 754.2,1052.2 755.7,1051.0 757.3,1052.1 758.8,1053.7 760.4,1053.8 761.7,1052.2 763.5,1055.4 765.0,1055.2 766.6,1055.9 768.1,1053.9 769.7,1054.0 771.2,1052.5 772.8,1050.4 774.3,1052.1 775.9,1052.7 777.4,1050.1 779.0,1050.2 780.5,1052.9 782.6,1052.3 783.6,1052.1 785.2,1052.9 786.7,1056.6 788.3,1055.9 789.8,1055.4 791.4,1056.8 792.9,1056.8 794.5,1054.9 796.0,1054.5 797.6,1054.7 799.1,1056.2 800.7,1057.5 802.2,1056.6 803.8,1058.5 805.3,1059.6 806.9,1059.8 808.4,1060.8 810.0,1061.0 811.5,1062.9 812.5,1053.5 814.6,1052.3 816.2,1051.7 817.7,1050.8 819.3,1050.6 820.8,1050.5 822.4,1055.7 823.9,1055.7 825.5,1054.9 827.0,1055.5 828.6,1055.4 830.3,1051.6 831.7,1054.0 833.2,1051.4 834.8,1053.5 836.3,1051.9 837.9,1049.3 839.9,1047.9 841.0,1049.4 842.5,1052.8 844.1,1051.9 845.6,1053.2 847.2,1047.5 848.7,1050.3 850.3,1047.4 851.8,1044.7 853.4,1039.7 854.2,1034.7 856.5,1043.0 858.0,1044.1 859.6,1046.6 861.1,1049.3 862.7,1053.7 864.2,1057.2 865.8,1054.9 867.3,1055.8 868.9,1055.9 870.4,1054.7 872.3,1046.6 873.5,1047.1 875.1,1048.1 876.6,1047.5 878.2,1044.7 879.7,1044.0 881.3,1052.2 882.8,1052.6 883.7,1049.4 885.9,1050.4 887.5,1053.0 889.0,1053.6 890.6,1054.9 892.0,1051.3 893.7,1054.1 895.2,1053.6 896.8,1052.8 898.3,1053.4 899.9,1051.0 902.0,1051.5 903.0,1051.8 904.5,1051.4 906.1,1051.2 907.6,1050.9 909.2,1050.2 910.7,1052.0 913.0,1043.5 913.8,1043.9 915.4,1044.2 916.9,1045.0 918.5,1047.8 920.0,1048.5 921.5,1053.5 923.1,1051.9 924.7,1050.4 926.2,1050.0 927.8,1043.0 930.0,1039.4 930.9,1040.1 932.4,1040.1 934.0,1038.4 935.5,1039.7 937.1,1046.5 938.4,1045.9 940.2,1047.4 941.7,1041.8 943.3,1042.5 944.8,1034.9 946.4,1030.6 947.4,1026.1 949.5,1024.8 951.0,1010.7 952.6,1010.2 954.1,1016.4 955.7,1014.6 957.2,1023.4 958.8,1024.2 960.3,1034.9 962.3,1020.2 963.4,1018.4 965.0,1018.5 966.5,1016.9 968.1,1018.8 969.6,1026.2 971.2,1040.7 972.7,1038.7 974.3,1044.0 975.8,1036.4 977.4,1028.1 978.9,997.2 980.5,998.1 982.0,1001.0 983.6,994.3 985.1,1003.2 986.7,1008.2 988.2,1040.7 990.2,1029.2 991.3,1026.3 992.9,1026.8 994.4,1025.6 996.0,1028.7 997.5,1025.4 999.1,1037.6 1000.6,1038.9 1002.2,1037.7 1003.7,1033.9 1005.3,1033.7 1006.8,1028.1 1008.5,1023.3 1009.9,1021.7 1011.5,1028.9 1013.0,1032.8 1014.6,1034.1 1016.1,1034.2 1017.7,1033.8 1020.0,1034.4 1020.8,1035.3 1022.3,1037.3 1023.9,1031.1 1025.4,1039.8 1026.7,1033.5 1028.5,1035.9 1030.1,1034.1 1031.6,1033.7 1033.2,1037.6 1034.7,1038.8 1036.3,1050.2 1037.8,1048.9 1039.4,1047.4 1040.9,1046.2 1042.4,1032.6 1044.0,1030.2 1045.6,1031.0 1047.1,1025.5 1049.0,1015.7 1050.2,1015.5 1051.8,1030.0 1053.3,1031.6 1054.9,1032.2 1056.4,1039.1 1058.0,1049.4 1059.5,1047.8 1061.1,1045.4 1062.6,1036.2 1064.5,1022.0 1065.7,1021.3 1067.3,1014.0 1068.8,1017.6 1070.4,1020.2 1071.9,1027.7 1072.9,972.8 1075.0,971.8 1076.8,967.2 1078.1,964.0 1079.7,962.9 1081.2,961.0 1082.8,1031.0 1084.3,1033.5 1085.8,1032.3 1087.4,1034.8 1089.0,1036.6 1090.5,1037.1 1092.1,1035.9 1093.6,1032.7 1095.2,1044.3 1096.7,1042.0 1098.3,1039.0 1099.8,1040.9 1101.4,1041.8 1102.9,1044.7 1104.5,1047.3 1106.7,1044.9 1107.6,1047.6 1109.1,1047.2 1110.7,1047.3 1112.2,1046.2 1113.8,1041.8 1115.3,1046.8 1116.9,1046.4 1118.0,1042.0 1120.0,1037.4 1121.5,1038.0 1123.1,1041.3 1124.6,1041.5 1126.2,1041.7 1127.7,1047.5 1129.3,1052.6 1130.8,1049.8 1132.4,1049.8 1133.9,1050.5 1135.5,1049.1 1137.0,1049.3 1138.6,1047.1 1140.1,1049.8 1141.7,1052.9 1143.2,1051.7 1144.8,1049.5 1146.3,1050.0 1147.5,1038.3 1149.4,1040.2 1151.0,1040.0 1152.5,1039.2 1154.1,1038.4 1155.6,1037.1 1157.5,1045.5 1158.7,1038.8 1160.3,1038.2 1161.8,1039.5 1163.4,1041.8 1164.9,1040.4 1165.8,888.1 1168.0,894.4 1169.6,892.4 1171.1,890.4 1172.7,893.4 1174.2,895.1 1175.8,1051.7 1178.0,1046.3 1178.9,1047.2 1180.4,1047.9 1182.0,1046.8 1183.5,1043.3 1185.0,1028.6 1186.6,1033.0 1188.2,1030.5 1189.7,1031.5 1191.3,1030.7 1192.8,1031.9 1194.4,1040.2 1195.9,1040.3 1197.5,1042.7 1199.0,1041.1 1200.4,993.8 1202.1,995.7 1203.7,1002.2 1205.2,1000.7 1206.8,1002.1 1208.3,1004.7 1209.9,1052.1 1211.4,1051.5 1213.0,1051.4 1214.5,1049.8 1216.1,1048.7 1217.6,1047.5 1218.8,1037.8 1220.7,1040.3 1222.3,1040.5 1224.0,1039.0 1225.4,1036.2 1226.9,1035.5 1228.5,1044.6 1230.0,1043.7 1231.6,1042.0 1233.1,1039.6 1234.7,1043.0 1236.2,1035.5 1238.0,1028.6 1239.3,1027.5 1240.9,1027.8 1242.4,1031.1 1244.0,1014.6 1245.5,1024.1 1247.1,1030.2 1248.6,1028.1 1250.2,1026.9 1251.7,1022.6 1253.6,1025.8 1254.8,1023.0 1256.4,1021.9 1257.9,1023.2 1259.5,1018.5 1261.0,1027.4 1262.6,1035.3 1264.1,1038.5 1265.7,1038.9 1267.2,1040.4 1269.0,1040.9 1270.3,1032.0 1271.9,1036.2 1273.4,1034.1 1275.0,1037.1 1276.5,1037.7 1278.1,1044.6 1279.6,1050.3 1281.2,1050.2 1282.7,1049.6 1284.3,1049.1 1285.8,1045.2 1287.4,1043.0 1288.9,1044.9 1290.5,1043.3 1292.0,1044.5 1293.6,1046.0 1295.8,1036.0 1296.7,1037.7 1298.2,1039.1 1299.8,1040.5 1301.3,1040.0 1302.9,1040.2 1304.4,1051.5 1306.0,1051.7 1307.5,1049.9 1309.1,1051.1 1310.6,1051.5 1312.2,1051.5 1313.7,1052.7 1315.3,1053.0 1316.8,1054.3 1318.4,1054.1 1319.9,1053.9 1321.5,1052.2 1323.0,1053.6 1324.6,1053.7 1326.1,1054.7 1327.7,1055.4 1329.2,1054.7 1330.8,1053.7 1332.3,1053.7 1334.0,1050.6 1335.4,1047.1 1337.0,1047.1 1338.5,1047.0 1340.1,1046.3 1341.6,1045.9 1343.2,1047.4 1344.7,1050.2 1346.3,1049.7 1347.8,1048.7 1349.4,1048.8 1350.9,1043.1 1351.8,1023.0 1354.0,1021.6 1356.0,1010.1 1357.1,1008.6 1358.7,1010.6 1360.2,1013.0 1361.7,1027.7 1363.3,1027.1 1364.9,1035.2 1366.4,1038.7 1368.0,1034.8 1369.0,1025.0 1371.1,1031.2 1372.6,1031.6 1374.2,1033.8 1375.7,1029.1 1377.3,1031.1 1378.8,1043.1 1380.4,1040.4 1381.9,1033.2 1383.5,1032.4 1385.0,1034.0 1386.6,1029.9 1388.1,1028.5 1389.7,1031.9 1391.2,1029.3 1393.0,1019.5 1394.3,1022.9 1395.9,1027.3 1397.4,1026.8 1399.0,1021.9 1400.5,1028.7 1402.1,1035.1 1404.0,1021.3 1405.2,1016.6 1406.7,1009.0 1408.3,1010.2 1409.8,1010.2 1411.0,1006.4 1412.9,1017.1 1414.5,1018.2 1416.0,1023.8 1417.6,1019.7 1419.1,1019.1 1420.7,1024.2 1422.8,1015.6 1423.8,1015.0 1425.3,1015.5 1426.9,1017.1 1428.4,1012.4 1429.8,1003.8 1431.5,999.7 1433.1,1001.5 1434.6,1000.9 1436.2,1004.9 1437.7,996.9 1438.8,997.8 1440.8,1007.1 1442.4,1003.2 1443.9,1005.0 1445.5,999.3 1447.0,1010.3 1448.6,1019.4 1450.1,1018.3 1451.7,1014.8 1452.7,1005.1 1454.8,1003.6 1456.3,1002.8 1457.9,997.7 1459.7,986.7 1461.0,986.0 1462.5,993.4 1464.1,993.1 1465.6,994.9 1467.2,993.8 1468.7,1007.7 1470.6,1008.9 1471.8,998.9 1473.4,1000.9 1474.9,1000.2 1476.5,1005.6 1478.0,1010.4 1479.6,1011.6 1481.1,1025.5 1482.7,1032.5 1484.2,1037.3 1485.8,1040.8 1487.3,1037.5 1488.9,1047.6 1490.5,1044.9 1492.0,1044.1 1493.5,1044.8 1495.1,1045.0 1496.6,1048.1 1498.2,1048.0 1499.7,1051.2 1501.8,1019.0 1502.8,1019.7 1504.4,1017.7 1505.9,1015.9 1507.5,1016.1 1509.0,1014.4 1510.6,1047.7 1512.1,1046.7 1513.7,1045.8 1515.2,1042.7 1516.8,1042.3 1518.3,1043.2 1520.2,1030.5 1521.4,1022.7 1523.0,1025.2 1524.5,1025.7 1526.0,995.9 1527.6,994.9 1529.2,999.9 1530.7,1009.4 1532.3,1010.5 1533.8,1014.4 1535.4,1044.8 1536.9,1048.6 1538.5,1053.0 1540.0,1052.1 1541.6,1052.8 1543.1,1052.2 1544.7,1053.2 1546.2,1051.0 1547.8,1055.8 1549.3,1055.8 1550.9,1052.7 1552.4,1053.8 1554.0,1053.6 1555.5,1056.4 1557.1,1054.2 1558.6,1053.3 1560.2,1056.0 1561.7,1054.9 1563.3,1053.4 1564.8,1051.4 1566.4,1045.6 1567.9,1046.8 1569.5,1044.9 1571.0,1045.2 1572.6,1044.6 1574.1,1046.7 1575.7,1054.1 1577.2,1053.3 1578.8,1050.1 1580.3,1051.8 1581.9,1053.3 1583.4,1045.1 1585.0,1039.2 1586.5,1038.3 1588.1,1035.1 1589.6,1033.4 1591.5,1022.8 1592.7,1028.3 1594.3,1031.3 1595.8,1031.8 1597.4,1039.4 1598.9,1033.1 1600.2,1028.3 1602.0,1028.4 1603.6,1028.2 1605.6,1019.7 1606.7,1019.0 1608.2,1023.9 1609.7,1030.4 1611.3,1027.4 1612.9,1028.8 1614.4,1038.9 1616.0,1031.3 1617.5,1030.0 1619.3,1028.5 1620.6,1031.0 1622.2,1029.4 1623.7,1027.3 1625.3,1034.9 1626.8,1037.6 1628.4,1046.4 1630.3,1038.2 1631.5,1041.2 1633.0,1037.9 1634.6,1038.3 1636.1,1034.3 1637.0,1027.1 1639.2,1033.5 1640.8,1024.8 1642.3,1026.5 1643.9,1025.7 1644.9,1014.3 1647.0,1019.6 1648.5,1023.6 1650.1,1031.4 1651.6,1031.6 1653.2,1031.1 1654.7,1044.6 1656.0,1036.4 1657.8,1030.7 1660.0,1021.1 1660.9,1019.5 1662.5,1019.1 1664.0,1019.4"/>
<defs><linearGradient id="bb" x1="0" x2="1" y1="0" y2="0"><stop offset="0" stop-color="#4b8cf0" stop-opacity="0.48"/><stop offset="1" stop-color="#4b8cf0" stop-opacity="0.61"/></linearGradient></defs>
<defs><filter id="sf" x="-5%" y="-5%" width="110%" height="110%"><feGaussianBlur stdDeviation="0.9"/></filter></defs>
<rect x="108" y="854" width="1574" height="28.5" fill="url(#bb)" filter="url(#sf)"/>
<g filter="url(#sf)">
<rect x="228" y="170.5" width="381" height="26.5" fill="#fbce50" fill-opacity="0.37"/>
<rect x="228" y="170.5" width="6" height="26.5" fill="#fbce50" fill-opacity="0.15"/>
<rect x="965.5" y="432" width="32" height="527" fill="#fbce50" fill-opacity="0.245"/>
<rect x="965.5" y="432" width="32" height="11" fill="#fbce50" fill-opacity="0.12"/>
<rect x="1062" y="215" width="30.5" height="489" fill="#fbce50" fill-opacity="0.245"/>
<rect x="1062" y="215" width="30.5" height="11" fill="#fbce50" fill-opacity="0.12"/>
<rect x="1183.3" y="218" width="32.7" height="567" fill="#fbce50" fill-opacity="0.245"/>
<rect x="1183.3" y="218" width="32.7" height="11" fill="#fbce50" fill-opacity="0.12"/>
<rect x="1488.5" y="50.5" width="33" height="780" fill="#fbce50" fill-opacity="0.245"/>
<rect x="1488.5" y="50.5" width="33" height="11" fill="#fbce50" fill-opacity="0.12"/>
<rect x="1510" y="57" width="32.5" height="769" fill="#fbce50" fill-opacity="0.245"/>
<rect x="1510" y="57" width="32.5" height="11" fill="#fbce50" fill-opacity="0.12"/>
<defs><linearGradient id="yb" x1="0" x2="0" y1="0" y2="1"><stop offset="0" stop-color="#fbce50" stop-opacity="0.4"/><stop offset="0.2" stop-color="#fbce50" stop-opacity="0.27"/><stop offset="0.75" stop-color="#fbce50" stop-opacity="0.2"/><stop offset="1" stop-color="#fbce50" stop-opacity="0.15"/></linearGradient></defs>
<rect x="1149.3" y="161" width="34" height="399.5" fill="url(#yb)"/>
</g>
<rect x="1682" y="55.5" width="118" height="49.5" fill="#131316"/>
<text x="1691.5" y="90.5" font-size="23" fill="#fff" letter-spacing="1.85">$103.2K</text>
<rect x="25.5" y="1020" width="85.5" height="50" fill="#4a3de0"/>
<text x="38" y="1053.5" font-size="23" fill="#fff" letter-spacing="1.8">14.9*</text>
<path fill="none" stroke="#2a7ae4" stroke-width="3.6" stroke-linecap="round" stroke-linejoin="round" d="M992.5,208.8 C984,205 986,198 1004,191.4 C1020,187 1040,189 1052.4,198.7 C1062,206 1068,216 1066,224"/>
<path fill="none" stroke="#2a7ae4" stroke-width="3.6" stroke-linecap="round" stroke-linejoin="round" d="M1056.6,221.8 C1060,227 1068,227 1071.3,224 C1078,217 1080,207 1073,197"/>
<path fill="none" stroke="#2a7ae4" stroke-width="3.6" stroke-linecap="round" stroke-linejoin="round" d="M1004.5,181.9 C999,175 1001,168 1008.3,163 C1025,150 1045,146 1056.6,146.2 C1085,147 1110,155 1130.2,166.1 C1140,172 1142,180 1138,184 C1136,184 1135,182 1135.4,179.8"/>
<path fill="none" stroke="#2a7ae4" stroke-width="3.6" stroke-linecap="round" stroke-linejoin="round" d="M1136.5,191.4 C1142,195 1150,192 1153.3,188.2 C1159,182 1158,172 1148,163"/>
<path fill="none" stroke="#2a7ae4" stroke-width="3.6" stroke-linecap="round" stroke-linejoin="round" d="M1024,145.8 C1022,142 1030,136 1037.7,132.5 C1070,118 1100,108 1130.2,102 C1160,96.5 1190,94.5 1207.9,97.4 C1235,103 1260,118 1287,128 C1330,143 1400,167 1429.6,178.4 C1445,184 1460,189 1468,186"/>
<path fill="none" stroke="#2a7ae4" stroke-width="3.6" stroke-linecap="round" stroke-linejoin="round" d="M1468.9,167.9 C1473,175 1479,191 1481.5,198 C1482.3,201 1481,202.6 1478,203.6 C1468,207 1458,210.5 1448.3,214.7"/>
<path fill="none" stroke="#2a7ae4" stroke-width="3.6" stroke-linecap="round" stroke-linejoin="round" d="M946.4,340.7 C947,355 950,372 954,385 C958,398 964,410 971.3,418.4"/>
<path fill="none" stroke="#2a7ae4" stroke-width="3.6" stroke-linecap="round" stroke-linejoin="round" d="M952.3,399.3 C958,408 964,414 971.3,419.3 C979,410 985,400 990.4,389.1"/>
<text class="hw" transform="translate(244,294) rotate(0)" stroke="#fff" stroke-linejoin="round"><tspan font-size="100" textLength="40" lengthAdjust="spacingAndGlyphs" stroke="#fff" stroke-width="1.3" dy="0" dx="0">A</tspan><tspan font-size="60" textLength="162" lengthAdjust="spacingAndGlyphs" stroke="#2a7ae4" stroke-width="0.9" dy="1" dx="0">verage</tspan></text>
<text class="hw" transform="translate(489,308) rotate(0)" stroke="#fff" stroke-linejoin="round"><tspan font-size="92" textLength="52" lengthAdjust="spacingAndGlyphs" stroke="#fff" stroke-width="1.3" dy="0" dx="0">D</tspan><tspan font-size="50" textLength="188" lengthAdjust="spacingAndGlyphs" stroke="#2a7ae4" stroke-width="1.0" dy="-16" dx="0">ormancy</tspan></text>
<text class="hw" transform="translate(758,293) rotate(0)" stroke="#fff" stroke-linejoin="round"><tspan font-size="100" textLength="58" lengthAdjust="spacingAndGlyphs" stroke="#fff" stroke-width="2.4" dy="0" dx="0">&gt;</tspan></text>
<text class="hw" transform="translate(846,281) rotate(-2)" stroke="#fff" stroke-linejoin="round"><tspan font-size="72" textLength="26" lengthAdjust="spacingAndGlyphs" stroke="#fff" stroke-width="0.6" dy="0" dx="0">1</tspan><tspan font-size="50" textLength="70" lengthAdjust="spacingAndGlyphs" stroke="#fff" stroke-width="0.3" dy="-8" dx="0">00</tspan></text>
<text class="hw" transform="translate(343,851) rotate(-9)" stroke="#fff" stroke-linejoin="round"><tspan font-size="70" textLength="24" lengthAdjust="spacingAndGlyphs" stroke="#2a7ae4" stroke-width="0.8" dy="0" dx="0">1</tspan><tspan font-size="52" textLength="52" lengthAdjust="spacingAndGlyphs" stroke="#2a7ae4" stroke-width="1.0" dy="-6" dx="0">00</tspan></text>
</svg></body></html>
